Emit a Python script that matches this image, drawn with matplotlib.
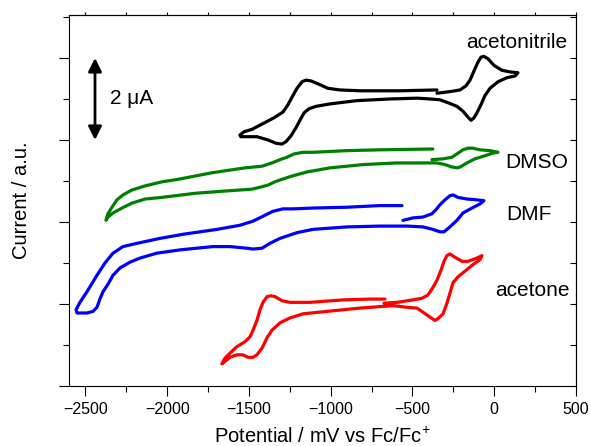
import matplotlib
matplotlib.use("Agg")
import matplotlib.pyplot as plt
from matplotlib.ticker import MultipleLocator, NullFormatter

plt.rcParams['font.family'] = ['Liberation Sans', 'DejaVu Sans']
plt.rcParams['mathtext.fontset'] = 'custom'
plt.rcParams['mathtext.rm'] = 'Liberation Sans'

# Potential (mV vs Fc/Fc+) and current (uA, offset) for each solvent
acn_x = [-350, -271, -209, -173, -148, -124, -99, -81, -63, -38, -2, 47, 96, 145, 127, 78, 23, -26,
         -57, -81, -106, -124, -142, -161, -191, -228, -277, -332, -393, -472, -637, -839, -1004,
         -1090, -1133, -1163, -1188, -1212, -1243, -1273, -1298, -1334, -1383, -1451, -1512, -1549,
         -1555, -1530, -1481, -1414, -1347, -1292, -1261, -1237, -1206, -1175, -1151, -1120, -1072,
         -1017, -943, -821, -576, -350]
acn_y = [3.57, 3.59, 3.61, 3.66, 3.73, 3.84, 3.95, 4.01, 4.02, 3.99, 3.91, 3.85, 3.83, 3.82, 3.78,
         3.76, 3.71, 3.63, 3.54, 3.43, 3.33, 3.27, 3.24, 3.28, 3.35, 3.41, 3.45, 3.49, 3.50, 3.51,
         3.50, 3.48, 3.44, 3.41, 3.38, 3.33, 3.24, 3.15, 3.05, 2.98, 2.95, 2.96, 3.00, 3.04, 3.04,
         3.04, 3.06, 3.10, 3.13, 3.20, 3.27, 3.34, 3.43, 3.52, 3.63, 3.71, 3.73, 3.72, 3.68, 3.63,
         3.61, 3.60, 3.60, 3.61]

dmso_x = [-381, -313, -258, -228, -191, -161, -130, -87, -26, 23, -8, -69, -118, -167, -209, -228,
          -258, -301, -350, -454, -595, -802, -1004, -1145, -1237, -1298, -1341, -1383, -1420, -1481,
          -1628, -1830, -2031, -2135, -2215, -2276, -2331, -2362, -2374, -2362, -2337, -2307, -2270,
          -2215, -2135, -2031, -1934, -1726, -1524, -1420, -1359, -1310, -1267, -1224, -1169, -1108,
          -900, -699, -375]
dmso_y = [2.76, 2.77, 2.79, 2.83, 2.88, 2.90, 2.90, 2.88, 2.87, 2.85, 2.84, 2.80, 2.77, 2.72, 2.67,
          2.66, 2.67, 2.70, 2.72, 2.72, 2.72, 2.70, 2.66, 2.61, 2.56, 2.52, 2.49, 2.45, 2.43, 2.40,
          2.38, 2.35, 2.30, 2.28, 2.23, 2.17, 2.11, 2.06, 2.02, 2.10, 2.18, 2.27, 2.33, 2.39, 2.44,
          2.49, 2.52, 2.60, 2.66, 2.68, 2.72, 2.76, 2.79, 2.83, 2.85, 2.85, 2.87, 2.88, 2.89]

dmf_x = [-558, -497, -436, -381, -356, -332, -301, -271, -252, -222, -167, -106, -63, -87, -136,
         -191, -228, -271, -307, -332, -375, -436, -534, -699, -900, -1108, -1206, -1310, -1371,
         -1420, -1475, -1512, -1616, -1720, -1921, -2062, -2166, -2227, -2288, -2331, -2362, -2392,
         -2411, -2429, -2453, -2490, -2551, -2557, -2533, -2490, -2429, -2380, -2331, -2270, -2184,
         -2044, -1903, -1695, -1555, -1475, -1414, -1353, -1292, -1230, -1108, -900, -699, -564]
dmf_y = [2.02, 2.05, 2.06, 2.10, 2.15, 2.21, 2.27, 2.32, 2.33, 2.30, 2.28, 2.27, 2.26, 2.22, 2.17,
         2.11, 2.02, 1.94, 1.88, 1.88, 1.91, 1.94, 1.95, 1.95, 1.94, 1.91, 1.87, 1.80, 1.74, 1.68,
         1.67, 1.68, 1.70, 1.70, 1.66, 1.62, 1.56, 1.51, 1.44, 1.35, 1.24, 1.15, 1.06, 0.96, 0.91,
         0.89, 0.89, 0.93, 1.02, 1.15, 1.35, 1.50, 1.62, 1.70, 1.74, 1.80, 1.85, 1.91, 1.96, 2.01,
         2.07, 2.13, 2.16, 2.16, 2.17, 2.18, 2.20, 2.20]

acetone_x = [-674, -595, -497, -442, -405, -375, -350, -326, -307, -289, -271, -240, -197, -161,
             -106, -75, -87, -130, -179, -222, -252, -271, -289, -313, -344, -362, -393, -436, -472,
             -534, -619, -821, -1023, -1169, -1249, -1310, -1359, -1389, -1420, -1451, -1475, -1506,
             -1536, -1573, -1616, -1646, -1665, -1646, -1616, -1573, -1524, -1493, -1475, -1451,
             -1432, -1414, -1389, -1365, -1341, -1298, -1249, -1127, -925, -760, -668]
acetone_y = [1.01, 1.02, 1.05, 1.07, 1.11, 1.20, 1.29, 1.41, 1.52, 1.59, 1.61, 1.57, 1.52, 1.52,
             1.56, 1.59, 1.54, 1.48, 1.40, 1.33, 1.26, 1.13, 1.01, 0.88, 0.82, 0.80, 0.84, 0.90,
             0.95, 0.96, 0.98, 0.95, 0.91, 0.88, 0.83, 0.77, 0.68, 0.59, 0.46, 0.38, 0.35, 0.35,
             0.38, 0.38, 0.35, 0.30, 0.27, 0.34, 0.40, 0.48, 0.54, 0.60, 0.68, 0.80, 0.93, 1.02,
             1.09, 1.10, 1.09, 1.04, 1.02, 1.02, 1.05, 1.06, 1.06]

series = [
    ("acetonitrile", acn_x, acn_y, "black"),
    ("DMSO", dmso_x, dmso_y, "green"),
    ("DMF", dmf_x, dmf_y, "blue"),
    ("acetone", acetone_x, acetone_y, "red"),
]
label_pos = {"acetonitrile": (-170, 4.12), "DMSO": (66, 2.66), "DMF": (72, 2.02), "acetone": (5, 1.10)}

fig = plt.figure(figsize=(5.9, 4.46), dpi=100)
ax = fig.add_axes([69/590, 60/446, 507/590, 371/446])

for name, xs, ys, col in series:
    ax.plot(xs, ys, color=col, lw=2.3, solid_joinstyle='round', solid_capstyle='round')
    lx, ly = label_pos[name]
    ax.text(lx, ly, name, fontsize=15, ha='left', va='baseline')

ax.set_xlim(-2600, 500)
ax.set_ylim(0, 4.524)

ax.xaxis.set_major_locator(MultipleLocator(500))
ax.xaxis.set_minor_locator(MultipleLocator(250))
ax.yaxis.set_major_locator(MultipleLocator(1))
ax.yaxis.set_minor_locator(MultipleLocator(0.5))
ax.yaxis.set_major_formatter(NullFormatter())
ax.tick_params(axis='both', which='major', direction='out', length=7, width=0.8,
               labelsize=11.5, pad=4.5)
ax.tick_params(axis='both', which='minor', direction='out', length=4, width=0.8)
ax.tick_params(top=False, right=False, which='both')

# short outward ticks on the top edge, short inward ticks on the right edge
secx = ax.secondary_xaxis('top')
secx.xaxis.set_major_locator(MultipleLocator(250))
secx.xaxis.set_major_formatter(NullFormatter())
secx.tick_params(which='both', direction='out', length=2.5, width=0.8)
secy = ax.secondary_yaxis('right')
secy.yaxis.set_major_locator(MultipleLocator(0.5))
secy.yaxis.set_major_formatter(NullFormatter())
secy.tick_params(which='both', direction='in', length=4, width=0.8)

for a in (ax, secx, secy):
    for sp in a.spines.values():
        sp.set_linewidth(0.8)

fig.text(322/590, 1 - 443/446, r'Potential / mV vs Fc/Fc$^{\mathregular{+}}$',
         fontsize=14.5, ha='center', va='baseline')
fig.text(22/590, 1 - 200/446, 'Current / a.u.', fontsize=14.5, rotation=90,
         ha='center', va='center')

# 2 uA scale bar
ax.annotate('', xy=(-2441, 4.0), xytext=(-2441, 3.0),
            arrowprops=dict(arrowstyle='<|-|>', color='black', lw=2.0,
                            mutation_scale=20, shrinkA=0, shrinkB=0))
ax.text(-2349, 3.44, '2 \u03bcA', fontsize=15, ha='left', va='baseline')

fig.savefig('out.png', dpi=100)
